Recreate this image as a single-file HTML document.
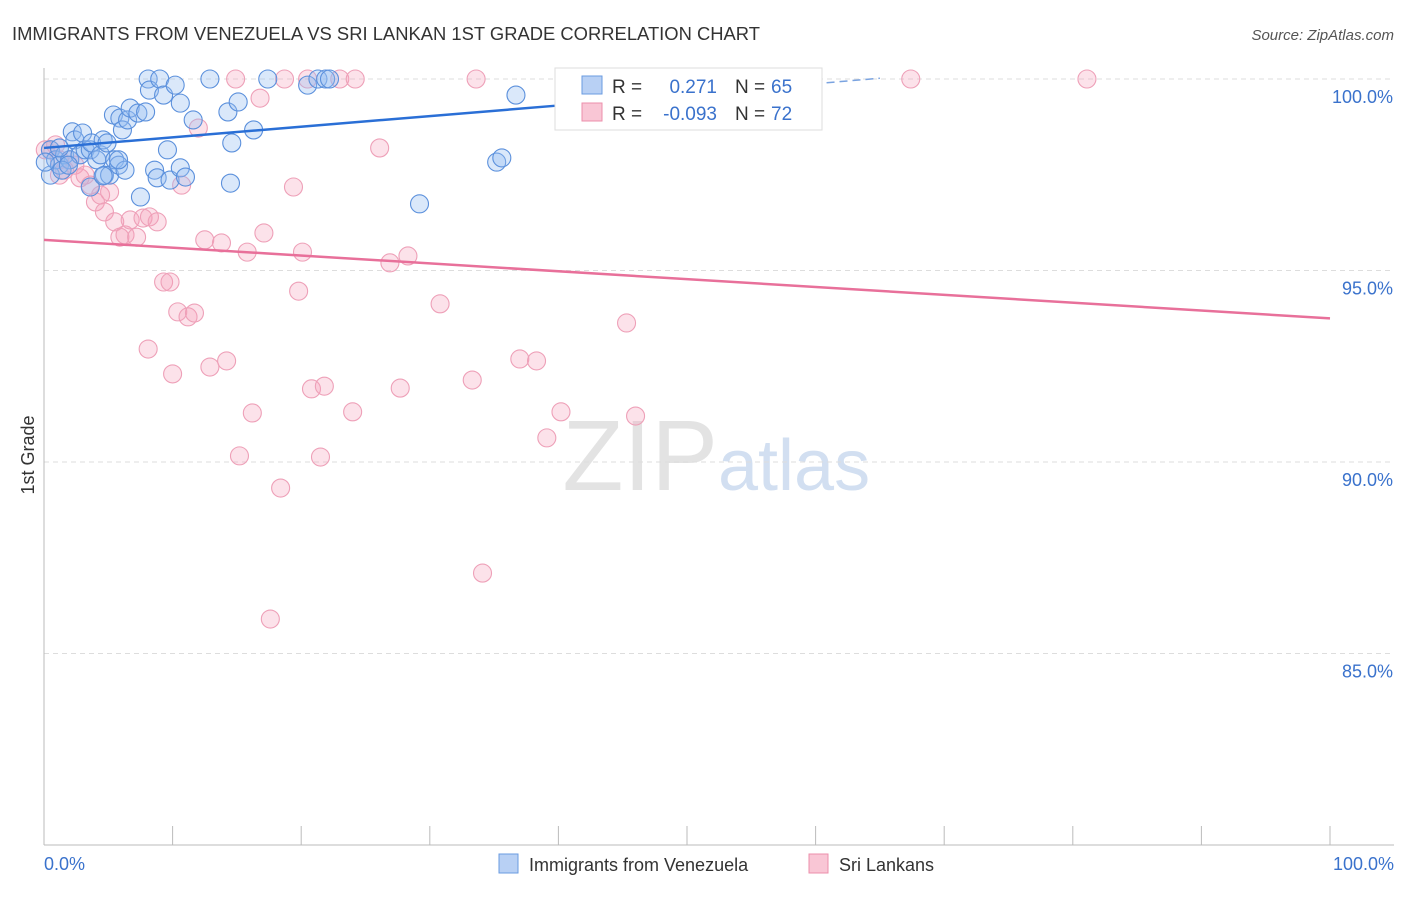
<!DOCTYPE html>
<html><head><meta charset="utf-8"><style>
body{margin:0;background:#fff;font-family:"Liberation Sans",sans-serif;}
svg text{font-family:"Liberation Sans",sans-serif;}
</style></head><body>
<svg id="c" width="1406" height="892" xmlns="http://www.w3.org/2000/svg">
<text x="12" y="40" font-size="18" fill="#333" textLength="748" lengthAdjust="spacingAndGlyphs">IMMIGRANTS FROM VENEZUELA VS SRI LANKAN 1ST GRADE CORRELATION CHART</text>
<text x="1394" y="40" font-size="15" fill="#555" text-anchor="end" font-style="italic">Source: ZipAtlas.com</text>
<text x="718" y="490" font-size="100" fill="#ddd" text-anchor="end" font-family="Liberation Serif" opacity="0.8">ZIP</text>
<text x="718" y="490" font-size="72" fill="#c8d8ee" opacity="0.8">atlas</text>
<text x="34" y="455" font-size="18" fill="#333" text-anchor="middle" transform="rotate(-90 34 455)">1st Grade</text>
<g id="grid"></g><g id="pts"></g><g id="lines"></g>
<g>
<rect x="555" y="68" width="267" height="62" fill="#fff" stroke="#ddd"/>
<rect x="582" y="76" width="20" height="18" fill="#b8d0f4" stroke="#6a9be0"/>
<rect x="582" y="103" width="20" height="18" fill="#f9c6d5" stroke="#ec8fab"/>
<text x="612" y="93" font-size="19" fill="#333">R = </text><text x="717" y="93" font-size="19" fill="#3a72cc" text-anchor="end">0.271</text>
<text x="735" y="93" font-size="19" fill="#333">N = </text><text x="771" y="93" font-size="19" fill="#3a72cc">65</text>
<text x="612" y="120" font-size="19" fill="#333">R = </text><text x="717" y="120" font-size="19" fill="#3a72cc" text-anchor="end">-0.093</text>
<text x="735" y="120" font-size="19" fill="#333">N = </text><text x="771" y="120" font-size="19" fill="#3a72cc">72</text>
</g>
<g>
<rect x="499" y="854" width="19" height="19" fill="#b8d0f4" stroke="#6a9be0"/>
<text x="529" y="871" font-size="18" fill="#333">Immigrants from Venezuela</text>
<rect x="809" y="854" width="19" height="19" fill="#f9c6d5" stroke="#ec8fab"/>
<text x="839" y="871" font-size="18" fill="#333">Sri Lankans</text>
</g>
</svg>
<script>
const yTicks=[100,95,90,85];
const yTickLabels=["100.0%","95.0%","90.0%","85.0%"];
const xTicks=[0,10,20,30,40,50,60,70,80,90,100];
const blueX=[0.5,0.5,0.9,1.2,1.6,2.0,2.2,2.4,2.8,3.0,3.2,3.6,3.7,4.1,4.4,4.6,4.7,4.9,5.1,5.4,5.5,5.8,5.9,6.1,6.3,6.5,6.7,7.3,7.5,7.9,8.1,8.2,8.6,8.8,9.0,9.3,9.6,9.8,10.2,10.6,10.6,11.0,11.6,12.9,14.3,14.5,14.6,15.1,16.3,17.4,20.5,21.3,21.9,22.2,29.2,35.2,35.6,36.7,1.2,1.4,3.6,5.8,4.6,0.1,1.9];
const blueY=[97.49,98.15,97.89,97.75,98.02,97.89,98.62,98.41,98.02,98.59,98.15,98.15,98.33,97.89,98.02,98.41,97.49,98.33,97.49,99.06,97.89,97.75,98.98,98.67,97.62,98.93,99.24,99.11,96.92,99.14,100.0,99.71,97.62,97.42,100.0,99.58,98.15,97.36,99.84,99.37,97.68,97.44,98.93,100.0,99.14,97.28,98.33,99.4,98.67,100.0,99.84,100.0,100.0,100.0,96.74,97.83,97.94,99.58,98.2,97.62,97.18,97.89,97.47,97.83,97.75];
const pinkX=[0.5,0.9,1.2,1.6,2.0,2.4,2.8,3.2,3.6,4.0,4.4,4.7,5.1,5.5,5.9,6.3,6.7,7.2,7.7,8.2,8.8,9.3,9.8,8.1,10.0,10.4,11.2,11.7,10.7,12.0,12.5,12.9,13.8,14.2,14.9,15.2,15.8,16.2,16.8,17.1,17.6,18.4,18.7,19.4,19.8,20.1,20.8,21.5,21.8,20.5,23.0,24.0,24.2,26.1,26.9,27.7,28.3,30.8,33.3,33.6,34.1,37.0,38.3,39.1,40.2,41.3,45.3,46.0,67.4,81.1,1.2,0.1];
const pinkY=[98.15,98.28,97.89,97.62,97.89,97.75,97.42,97.49,97.23,96.79,96.97,96.53,97.05,96.27,95.87,95.93,96.32,95.87,96.37,96.4,96.27,94.7,94.7,92.95,92.3,93.92,93.79,93.89,97.23,98.72,95.8,92.48,95.72,92.64,100.0,90.16,95.48,91.28,99.5,95.98,85.9,89.32,100.0,97.18,94.46,95.48,91.91,90.13,91.98,100.0,100.0,91.31,100.0,98.2,95.2,91.93,95.38,94.13,92.14,100.0,87.1,92.69,92.64,90.63,91.31,100.0,93.63,91.2,100.0,100.0,97.49,98.15];
const blueLine=[[0,98.2],[39.7,99.3]];
const blueDash=[[39.7,99.3],[65.0,100.02]];
const pinkLine=[[0,95.8],[100,93.75]];
const NS="http://www.w3.org/2000/svg";
const X=v=>44+v*12.86, Y=v=>79+(100-v)*38.3;
function mk(t,a,p){const e=document.createElementNS(NS,t);for(const k in a)e.setAttribute(k,a[k]);p.appendChild(e);return e;}
const g=document.getElementById('grid'),P=document.getElementById('pts'),L=document.getElementById('lines');
yTicks.forEach((t,i)=>{const l=mk('line',{x1:44,x2:1394,y1:Y(t),y2:Y(t),stroke:'#ddd','stroke-dasharray':'5,4'},g);

const tx=mk('text',{x:1393,y:Y(t)+24,'font-size':18,fill:'#3a72cc','text-anchor':'end'},g);tx.textContent=yTickLabels[i];
});
const ax=mk('line',{x1:44,x2:44,y1:68,y2:845,stroke:'#bbb'},g);
const bx=mk('line',{x1:44,x2:1394,y1:845,y2:845,stroke:'#bbb'},g);
xTicks.forEach(t=>{const l=mk('line',{x1:X(t),x2:X(t),y1:826,y2:845,stroke:'#bbb'},g);});
[[0,'0.0%','start',44],[100,'100.0%','end',1394]].forEach(d=>{const tx=mk('text',{x:d[3],y:870,'font-size':18,fill:'#3a72cc','text-anchor':d[2]},g);tx.textContent=d[1];
});
pinkX.forEach((x,i)=>{const c=mk('circle',{cx:X(x),cy:Y(pinkY[i]),r:9,fill:'rgba(244,160,186,0.3)',stroke:'#eea0b8','stroke-width':1.1},P);
});
blueX.forEach((x,i)=>{const c=mk('circle',{cx:X(x),cy:Y(blueY[i]),r:9,fill:'rgba(150,188,240,0.35)',stroke:'#5b90dc','stroke-width':1.1},P);
});
const bl=mk('line',{x1:X(blueLine[0][0]),y1:Y(blueLine[0][1]),x2:X(blueLine[1][0]),y2:Y(blueLine[1][1]),stroke:'#2a6fd6','stroke-width':2.5},L);

const bd=mk('line',{x1:X(blueDash[0][0]),y1:Y(blueDash[0][1]),x2:X(blueDash[1][0]),y2:Y(blueDash[1][1]),stroke:'#7aa3e0','stroke-width':1.5,'stroke-dasharray':'8,5'},L);

const pl=mk('line',{x1:X(pinkLine[0][0]),y1:Y(pinkLine[0][1]),x2:X(pinkLine[1][0]),y2:Y(pinkLine[1][1]),stroke:'#e8709a','stroke-width':2.5},L);

</script>
</body></html>
